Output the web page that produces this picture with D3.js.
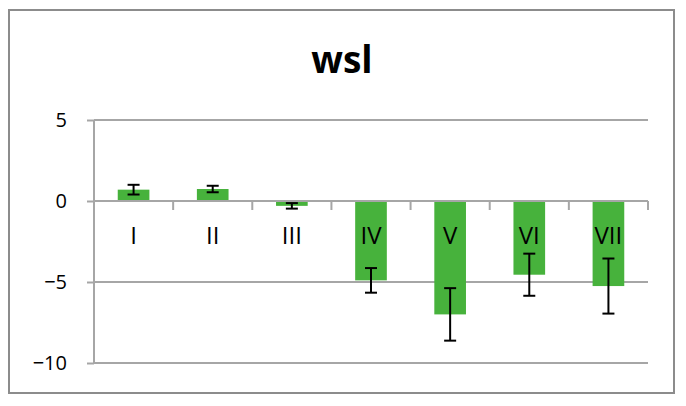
<!DOCTYPE html>
<html>
<head>
<meta charset="utf-8">
<script src="https://cdn.jsdelivr.net/npm/d3@7"></script>
<style>
  body { margin: 0; background: #fff; }
  svg { display: block; font-family: "Open Sans", Lato, sans-serif; }
</style>
</head>
<body>
<svg id="chart" width="686" height="406"></svg>
<script>
var categories = ["I", "II", "III", "IV", "V", "VI", "VII"];
var values = [0.7, 0.74, -0.3, -4.9, -7.0, -4.55, -5.25];
var errors = [0.3, 0.2, 0.17, 0.76, 1.62, 1.3, 1.7];
var yTicks = [-10, -5, 0, 5];

var data = categories.map(function(c, i) {
  return { cat: c, value: values[i], err: errors[i] };
});

var svg = d3.select("#chart");

var plotLeft = 94, plotRight = 648, plotTop = 120, plotBottom = 363;

var x = d3.scaleBand()
    .domain(categories)
    .range([plotLeft, plotRight])
    .padding(0);

var y = d3.scaleLinear()
    .domain([-10, 5])
    .range([plotBottom, plotTop]);

// outer frame
svg.append("rect")
    .attr("x", 9).attr("y", 10)
    .attr("width", 665).attr("height", 383)
    .attr("fill", "#fff")
    .attr("stroke", "#8c8c8c")
    .attr("stroke-width", 2);

// title
svg.append("text")
    .attr("x", 342).attr("y", 73)
    .attr("text-anchor", "middle")
    .style("font-size", "37px")
    .style("font-weight", "bold")
    .text("wsl");

// gridlines
svg.append("g")
  .selectAll("line")
  .data(yTicks.filter(function(d) { return d !== 0; }))
  .enter().append("line")
    .attr("x1", plotLeft).attr("x2", plotRight)
    .attr("y1", function(d) { return y(d); })
    .attr("y2", function(d) { return y(d); })
    .attr("stroke", "#a6a6a6")
    .attr("stroke-width", 2);

// bars
var barW = x.bandwidth() * 0.4;
svg.append("g")
  .selectAll("rect")
  .data(data)
  .enter().append("rect")
    .attr("x", function(d) { return x(d.cat) + (x.bandwidth() - barW) / 2; })
    .attr("width", barW)
    .attr("y", function(d) { return y(Math.max(0, d.value)); })
    .attr("height", function(d) { return Math.abs(y(d.value) - y(0)); })
    .attr("fill", "#47b23c");

// y axis
var yAxis = svg.append("g")
    .attr("transform", "translate(" + plotLeft + ",0)")
    .call(d3.axisLeft(y).tickValues(yTicks).tickSize(7).tickPadding(20));
yAxis.select(".domain").attr("stroke", "#a6a6a6").attr("stroke-width", 2)
    .attr("d", "M0," + y(5) + "V" + y(-10));
yAxis.selectAll(".tick line").attr("stroke", "#a6a6a6").attr("stroke-width", 2);
yAxis.selectAll(".tick text")
    .style("font-size", "20px")
    .attr("fill", "#000")
    .attr("font-family", "'Open Sans', sans-serif");

// category axis at zero
var xAxis = svg.append("g")
    .attr("transform", "translate(0," + y(0) + ")");
xAxis.append("line")
    .attr("x1", plotLeft).attr("x2", plotRight)
    .attr("stroke", "#a6a6a6").attr("stroke-width", 2);
xAxis.selectAll(".xt")
  .data(categories)
  .enter().append("line")
    .attr("class", "xt")
    .attr("x1", function(d) { return x(d) + x.bandwidth(); })
    .attr("x2", function(d) { return x(d) + x.bandwidth(); })
    .attr("y1", 0).attr("y2", 9)
    .attr("stroke", "#a6a6a6").attr("stroke-width", 2);

// category labels
svg.append("g")
  .selectAll("text")
  .data(categories)
  .enter().append("text")
    .attr("x", function(d) { return x(d) + x.bandwidth() / 2; })
    .attr("y", 244)
    .attr("text-anchor", "middle")
    .style("font-size", "24px")
    .text(function(d) { return d; });

// error bars
var eb = svg.append("g")
  .selectAll("g")
  .data(data)
  .enter().append("g")
    .attr("stroke", "#000")
    .attr("stroke-width", 2);
eb.append("line")
    .attr("x1", function(d) { return x(d.cat) + x.bandwidth() / 2; })
    .attr("x2", function(d) { return x(d.cat) + x.bandwidth() / 2; })
    .attr("y1", function(d) { return y(d.value + d.err); })
    .attr("y2", function(d) { return y(d.value - d.err); });
[1, -1].forEach(function(s) {
  eb.append("line")
      .attr("x1", function(d) { return x(d.cat) + x.bandwidth() / 2 - 6; })
      .attr("x2", function(d) { return x(d.cat) + x.bandwidth() / 2 + 6; })
      .attr("y1", function(d) { return y(d.value + s * d.err); })
      .attr("y2", function(d) { return y(d.value + s * d.err); });
});
</script>
</body>
</html>
